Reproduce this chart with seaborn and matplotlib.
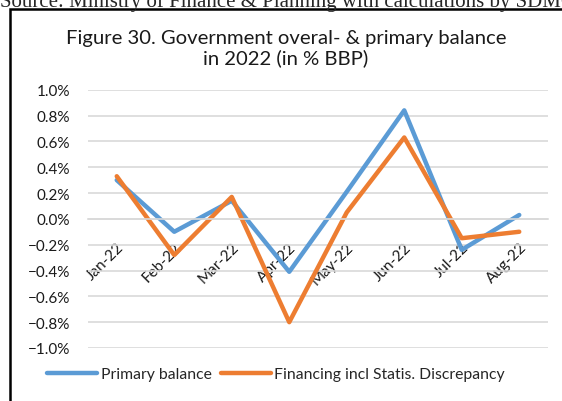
import pandas as pd
import matplotlib.pyplot as plt
import seaborn as sns
from matplotlib.patches import Rectangle
from matplotlib.ticker import PercentFormatter

# Values (% of GDP)
months = ['Jan-22', 'Feb-22', 'Mar-22', 'Apr-22', 'May-22', 'Jun-22', 'Jul-22', 'Aug-22']
primary_balance = [0.30, -0.10, 0.14, -0.41, 0.21, 0.84, -0.24, 0.03]
financing = [0.33, -0.28, 0.17, -0.80, 0.05, 0.63, -0.15, -0.10]
yticks = [-1.0, -0.8, -0.6, -0.4, -0.2, 0.0, 0.2, 0.4, 0.6, 0.8, 1.0]

df = pd.DataFrame({'month': months * 2,
                   'value': primary_balance + financing,
                   'series': ['Primary balance'] * len(months)
                             + ['Financing incl Statis. Discrepancy'] * len(months)})

sns.set_style('white')
plt.rcParams['font.family'] = ['Lato', 'DejaVu Sans']

fig = plt.figure(figsize=(5.62, 4.02), dpi=100)
ax = fig.add_axes([88 / 562, 1 - 349 / 402, 460 / 562, (349 - 90.7) / 402])

sns.lineplot(data=df, x='month', y='value', hue='series', sort=False,
             palette=['#5B9BD5', '#ED7D31'], linewidth=3.2, ax=ax, legend=True)

ax.set_xlim(-0.5, len(months) - 0.5)
ax.set_ylim(-1.0, 1.0)
ax.set_yticks(yticks)
ax.yaxis.set_major_formatter(PercentFormatter(decimals=1))
ax.grid(axis='y', color='#D9D9D9', linewidth=1.2)
ax.set_axisbelow(True)
for s in ['top', 'right', 'left']:
    ax.spines[s].set_visible(False)
ax.spines['bottom'].set_position(('data', 0))
ax.spines['bottom'].set_color('#D9D9D9')
ax.spines['bottom'].set_linewidth(1.2)
ax.tick_params(axis='both', length=0, labelsize=11, colors='#1a1a1a')
ax.tick_params(axis='y', pad=13)
ax.tick_params(axis='x', pad=15)
for lbl in ax.get_xticklabels():
    lbl.set_rotation(45)
    lbl.set_ha('right')
    lbl.set_va('top')
    lbl.set_rotation_mode('anchor')
ax.set_xlabel('')
ax.set_ylabel('')

ax.legend(loc='center', bbox_to_anchor=(276 / 562, 1 - 375 / 402),
          bbox_transform=fig.transFigure, ncol=2, frameon=False,
          fontsize=11.3, handlelength=3.2, handletextpad=0.2, columnspacing=0.6)

fig.text(286 / 562, 1 - 49 / 402,
         'Figure 30. Government overal- & primary balance\nin 2022 (in % BBP)',
         ha='center', va='center', fontsize=14.6, linespacing=1.15, color='#1a1a1a')

fig.text(0, 1 - 6.5 / 402,
         'Source: Ministry of Finance & Planning with calculations by SDMC',
         ha='left', va='baseline', fontsize=15, family='Liberation Serif')

fig.patches.append(Rectangle((9.5 / 562, -0.05), 1.0, 1 - 9.5 / 402 + 0.05,
                             transform=fig.transFigure, fill=False,
                             edgecolor='black', linewidth=1.8))

fig.savefig('out.png', dpi=100)
